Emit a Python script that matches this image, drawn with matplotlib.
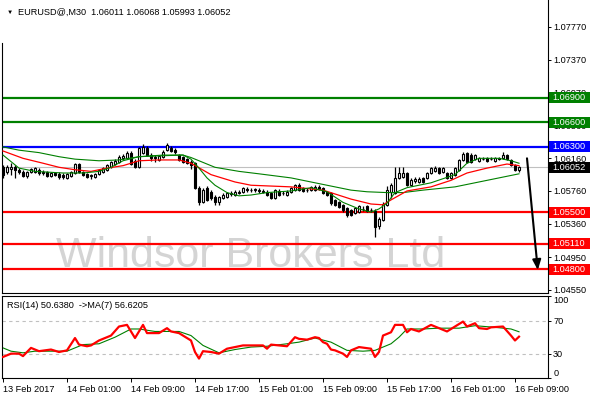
import matplotlib
matplotlib.use("Agg")
import matplotlib.pyplot as plt
import matplotlib.transforms as mtransforms
from matplotlib.patches import Rectangle
import numpy as np

plt.rcParams['font.family'] = ['Liberation Sans', 'DejaVu Sans']

# M30 candles, 13 Feb 17:00 .. 16 Feb 09:30
bar_open = [
    1.0605, 1.0599, 1.0603, 1.0605, 1.0602, 1.0599, 1.0594, 1.0599, 1.0599, 1.0602,
    1.0599, 1.0599, 1.0594, 1.0598, 1.0597, 1.0596, 1.0592, 1.0594, 1.0598, 1.0609,
    1.0599, 1.0597, 1.0594, 1.0593, 1.0597, 1.0599, 1.0602, 1.0605, 1.0609, 1.0612,
    1.0616, 1.0616, 1.0623, 1.0613, 1.0605, 1.0623, 1.0629, 1.0620, 1.0618, 1.0614,
    1.0618, 1.0626, 1.0629, 1.0626, 1.0620, 1.0618, 1.0615, 1.0612, 1.0610, 1.0580,
    1.0562, 1.0580, 1.0575, 1.0569, 1.0562, 1.0567, 1.0569, 1.0572, 1.0571, 1.0574,
    1.0575, 1.0578, 1.0577, 1.0577, 1.0577, 1.0576, 1.0575, 1.0574, 1.0567, 1.0576,
    1.0574, 1.0571, 1.0575, 1.0577, 1.0583, 1.0580, 1.0577, 1.0577, 1.0577, 1.0581,
    1.0580, 1.0575, 1.0574, 1.0565, 1.0562, 1.0559, 1.0555, 1.0553, 1.0549, 1.0550,
    1.0554, 1.0558, 1.0553, 1.0551, 1.0533, 1.0540, 1.0559, 1.0575, 1.0574, 1.0592,
    1.0593, 1.0598, 1.0583, 1.0588, 1.0587, 1.0592, 1.0592, 1.0598, 1.0600, 1.0604,
    1.0599, 1.0598, 1.0592, 1.0596, 1.0602, 1.0614, 1.0623, 1.0620, 1.0615, 1.0613,
    1.0615, 1.0616, 1.0615, 1.0613, 1.0615, 1.0616, 1.0620, 1.0614, 1.0608, 1.06011]
bar_high = [
    1.0608, 1.0608, 1.0610, 1.0608, 1.0604, 1.0602, 1.0600, 1.0604, 1.0605, 1.0604,
    1.0602, 1.0600, 1.0599, 1.0599, 1.0599, 1.0598, 1.0598, 1.0600, 1.0610, 1.0610,
    1.0600, 1.0598, 1.0597, 1.0598, 1.0603, 1.0605, 1.0609, 1.0613, 1.0615, 1.0620,
    1.0621, 1.0625, 1.0625, 1.0615, 1.0630, 1.0634, 1.0631, 1.0623, 1.0620, 1.0620,
    1.0626, 1.0635, 1.0631, 1.0629, 1.0621, 1.0619, 1.0616, 1.0614, 1.0612, 1.0582,
    1.0580, 1.0582, 1.0577, 1.0571, 1.0570, 1.0574, 1.0575, 1.0576, 1.0577, 1.0577,
    1.0581, 1.0581, 1.0580, 1.0580, 1.0580, 1.0578, 1.0577, 1.0575, 1.0578, 1.0578,
    1.0576, 1.0577, 1.0581, 1.0585, 1.0586, 1.0581, 1.0580, 1.0582, 1.0583, 1.0583,
    1.0581, 1.0576, 1.0575, 1.0566, 1.0564, 1.0560, 1.0556, 1.0554, 1.0556, 1.0559,
    1.0558, 1.0559, 1.0555, 1.0554, 1.0544, 1.0562, 1.0582, 1.0586, 1.0605, 1.0605,
    1.0605, 1.0599, 1.0592, 1.0593, 1.0593, 1.0593, 1.0599, 1.0605, 1.0607, 1.0605,
    1.0605, 1.0599, 1.0599, 1.0605, 1.0615, 1.0624, 1.0624, 1.0623, 1.0621, 1.0618,
    1.0618, 1.0618, 1.0618, 1.0618, 1.0618, 1.0624, 1.0621, 1.0615, 1.0609, 1.06068]
bar_low = [
    1.0592, 1.0597, 1.0596, 1.0592, 1.0597, 1.0593, 1.0592, 1.0598, 1.0598, 1.0596,
    1.0596, 1.0593, 1.0593, 1.0594, 1.0591, 1.0591, 1.0591, 1.0593, 1.0597, 1.0598,
    1.0594, 1.0592, 1.0591, 1.0592, 1.0596, 1.0598, 1.0600, 1.0604, 1.0608, 1.0610,
    1.0614, 1.0615, 1.0608, 1.0604, 1.0604, 1.0621, 1.0619, 1.0613, 1.0612, 1.0613,
    1.0616, 1.0625, 1.0624, 1.0621, 1.0613, 1.0610, 1.0609, 1.0603, 1.0578, 1.0559,
    1.0561, 1.0564, 1.0565, 1.0559, 1.0559, 1.0566, 1.0567, 1.0570, 1.0570, 1.0572,
    1.0574, 1.0575, 1.0575, 1.0575, 1.0574, 1.0574, 1.0570, 1.0566, 1.0566, 1.0570,
    1.0571, 1.0570, 1.0574, 1.0576, 1.0576, 1.0575, 1.0575, 1.0576, 1.0576, 1.0577,
    1.0572, 1.0570, 1.0559, 1.0558, 1.0555, 1.0550, 1.0544, 1.0545, 1.0548, 1.0549,
    1.0551, 1.0550, 1.0550, 1.0520, 1.0529, 1.0539, 1.0558, 1.0567, 1.0572, 1.0591,
    1.0592, 1.0582, 1.0582, 1.0586, 1.0586, 1.0586, 1.0591, 1.0597, 1.0599, 1.0597,
    1.0598, 1.0591, 1.0591, 1.0594, 1.0600, 1.0613, 1.0610, 1.0610, 1.0614, 1.0612,
    1.0614, 1.0612, 1.0614, 1.0612, 1.0614, 1.0615, 1.0614, 1.0607, 1.0600, 1.05993]
bar_close = [
    1.0596, 1.0605, 1.0605, 1.0602, 1.0599, 1.0594, 1.0599, 1.0603, 1.0604, 1.0598,
    1.0598, 1.0594, 1.0598, 1.0596, 1.0593, 1.0593, 1.0597, 1.0599, 1.0609, 1.0599,
    1.0596, 1.0593, 1.0595, 1.0597, 1.0602, 1.0604, 1.0608, 1.0612, 1.0613, 1.0618,
    1.0619, 1.0623, 1.0609, 1.0605, 1.0629, 1.0630, 1.0620, 1.0616, 1.0617, 1.0619,
    1.0624, 1.0632, 1.0625, 1.0624, 1.0614, 1.0612, 1.0610, 1.0608, 1.0580, 1.0562,
    1.0577, 1.0565, 1.0567, 1.0562, 1.0569, 1.0571, 1.0574, 1.0574, 1.0575, 1.0575,
    1.0580, 1.0577, 1.0577, 1.0578, 1.0576, 1.0575, 1.0571, 1.0567, 1.0577, 1.0571,
    1.0574, 1.0575, 1.0580, 1.0583, 1.0577, 1.0576, 1.0577, 1.0581, 1.0581, 1.0578,
    1.0574, 1.0571, 1.0561, 1.0559, 1.0556, 1.0553, 1.0547, 1.0547, 1.0555, 1.0558,
    1.0554, 1.0551, 1.0553, 1.0532, 1.0542, 1.0560, 1.0577, 1.0583, 1.0592, 1.0598,
    1.0598, 1.0583, 1.0589, 1.0591, 1.0591, 1.0587, 1.0598, 1.0604, 1.0604, 1.0598,
    1.0604, 1.0592, 1.0598, 1.0604, 1.0614, 1.0621, 1.0612, 1.0612, 1.0620, 1.0616,
    1.0615, 1.0613, 1.0615, 1.0616, 1.0616, 1.0620, 1.0615, 1.0608, 1.0602, 1.06052]

# moving averages (bar index, price)
slow_ma_idx = [0, 4, 9, 14, 18, 24, 29, 34, 39, 45, 47, 53, 59, 64, 72, 81, 87, 91, 96, 100, 105, 113, 120, 129]
slow_ma = [1.0630, 1.0626, 1.0623, 1.0618, 1.0615, 1.0613, 1.0614, 1.0618, 1.0619, 1.0620, 1.0617, 1.0605,
           1.0600, 1.0597, 1.0592, 1.0583, 1.0577, 1.0575, 1.0574, 1.0574, 1.0577, 1.0581, 1.0588, 1.0597]
red_ma_idx = [0, 5, 10, 14, 18, 22, 26, 30, 34, 39, 44, 47, 52, 58, 62, 72, 80, 87, 92, 95, 97, 101, 107,
              112, 116, 121, 126, 129]
red_ma = [1.0625, 1.0616, 1.0610, 1.0605, 1.0602, 1.0600, 1.0604, 1.0607, 1.0613, 1.0614, 1.0614, 1.0610,
          1.0596, 1.0587, 1.0583, 1.0581, 1.0577, 1.0566, 1.0560, 1.0559, 1.0565, 1.0576, 1.0581, 1.0589,
          1.0598, 1.0604, 1.0609, 1.0607]
fast_ma_idx = [0, 2, 4, 8, 15, 20, 24, 27, 30, 34, 40, 45, 47, 49, 51, 53, 56, 59, 62, 66, 72, 77, 81, 85,
               89, 92, 94, 96, 98, 101, 107, 113, 116, 119, 124, 127, 129]
fast_ma = [1.0620, 1.0612, 1.0604, 1.0600, 1.0598, 1.0598, 1.0600, 1.0605, 1.0613, 1.0618, 1.0620, 1.0620,
           1.0615, 1.0604, 1.0592, 1.0583, 1.0574, 1.0570, 1.0571, 1.0574, 1.0576, 1.0580, 1.0575, 1.0562,
           1.0554, 1.0550, 1.0554, 1.0561, 1.0574, 1.0580, 1.0586, 1.0596, 1.0610, 1.0616, 1.0616, 1.0613,
           1.0610]

# RSI(14) and its MA(7)
rsi_idx = [0, 2, 4, 5, 7, 9, 12, 14, 16, 18, 19, 21, 22, 24, 27, 29, 31, 33, 35, 36, 39, 41, 42, 44, 47,
           48, 49, 50, 52, 54, 56, 59, 60, 65, 66, 67, 71, 73, 74, 76, 78, 79, 80, 81, 82, 83, 85, 86, 87,
           89, 92, 93, 94, 95, 97, 98, 100, 101, 102, 104, 107, 109, 111, 113, 115, 116, 118, 119, 121,
           122, 125, 127, 128, 129]
rsi = [26, 30, 30, 27, 37, 33, 35, 32, 34, 49, 41, 39, 40, 46, 52, 63, 65, 49, 65, 55, 55, 61, 57, 55, 46,
       32, 24, 33, 32, 30, 36, 39, 40, 40, 36, 41, 39, 50, 48, 47, 50, 49, 44, 42, 35, 34, 30, 26, 34,
       38, 36, 26, 32, 52, 56, 65, 65, 56, 60, 57, 65, 61, 57, 63, 69, 63, 67, 61, 60,
       62, 63, 52, 46, 50.638]
rsi_ma_idx = [0, 2, 5, 8, 16, 20, 24, 28, 32, 34, 38, 44, 47, 50, 54, 58, 62, 66, 71, 74, 78, 82, 86, 90,
              93, 97, 99, 101, 105, 109, 114, 118, 123, 127, 129]
rsi_ma = [37, 33, 31, 33, 33, 41, 42, 50, 60, 60, 57, 57, 52, 40, 31, 35, 38, 39, 42, 44, 49, 44, 34, 33,
          34, 42, 50, 60, 60, 61, 61, 64, 62, 60, 56.6205]

green_levels = [1.0690, 1.0660]
blue_levels = [1.0630]
red_levels = [1.0550, 1.0511, 1.0480]
last_price = 1.06052

price_ticks = [1.0777, 1.0737, 1.0697, 1.0656, 1.0616, 1.0576, 1.0536, 1.0495, 1.0455]
time_idx = [0, 16, 32, 48, 64, 80, 96, 112, 128]
time_labels = ['13 Feb 2017', '14 Feb 01:00', '14 Feb 09:00', '14 Feb 17:00', '15 Feb 01:00',
               '15 Feb 09:00', '15 Feb 17:00', '16 Feb 01:00', '16 Feb 09:00']

# hand drawn arrow: (bar index, price)
arrow_from = (131.0, 1.0616)
arrow_to = (133.7, 1.0479)

FS = 6.6
W, H = 590.0, 400.0

fig = plt.figure(figsize=(5.9, 4.0), dpi=100)
ax = fig.add_axes([2 / W, 1 - 292.5 / H, 546 / W, 292.5 / H])
ax_rsi = fig.add_axes([2 / W, 1 - 378.3 / H, 546 / W, (378.3 - 295.7) / H])

# ---- main panel ----
idx = np.arange(len(bar_close))
o = np.array(bar_open)
c = np.array(bar_close)
up = c >= o

ax.text(251 / W, 1 - 267 / H, 'Windsor Brokers Ltd', transform=fig.transFigure, ha='center',
        va='baseline', fontsize=31, color='#d4d4d4', zorder=0.5)

for lvl in green_levels:
    ax.axhline(lvl, color='#008000', lw=1.6, zorder=2)
for lvl in blue_levels:
    ax.axhline(lvl, color='#0000ff', lw=1.6, zorder=2)
for lvl in red_levels:
    ax.axhline(lvl, color='#ff0000', lw=1.6, zorder=2)
ax.axhline(last_price, color='#c0c0c0', lw=0.8, zorder=1.5)

ax.vlines(idx, bar_low, bar_high, color='black', lw=0.9, zorder=3)
ax.bar(idx, np.abs(c - o), bottom=np.minimum(o, c), width=0.68,
       color=np.where(up, 'white', 'black'), edgecolor='black', linewidth=0.8, zorder=3.5)

ax.plot(slow_ma_idx, slow_ma, color='#008000', lw=0.8, zorder=4)
ax.plot(red_ma_idx, red_ma, color='#ff0000', lw=0.9, zorder=4)
ax.plot(fast_ma_idx, fast_ma, color='#008000', lw=0.8, zorder=4)

ax.annotate('', xy=arrow_to, xytext=arrow_from,
            arrowprops=dict(arrowstyle='-|>,head_length=0.6,head_width=0.25', color='black',
                            lw=1.5, shrinkA=0, shrinkB=0), zorder=6)

ax.set_xlim(-0.25, 136.25)
ax.set_ylim(1.04515, 1.08101)
ax.yaxis.tick_right()
ax.set_yticks(price_ticks)
ax.set_yticklabels(['%.5f' % p for p in price_ticks])
ax.tick_params(axis='y', length=2.5, width=0.7, pad=1.2, labelsize=FS)
ax.set_xticks([])
ax.spines['top'].set_visible(False)
ax.spines['left'].set_bounds(1.04515, 1.0757)
for s in ax.spines.values():
    s.set_linewidth(0.8)

# price tags on the right scale (they cover the scale labels behind them, as in the terminal)
blend = mtransforms.blended_transform_factory(ax.transAxes, ax.transData)
tag_text = mtransforms.offset_copy(blend, fig=fig, x=3.4, y=0, units='points')
tag_h = 0.00135
tags = [(l, '#008000') for l in green_levels] + [(l, '#0000ff') for l in blue_levels] + \
       [(l, '#ff0000') for l in red_levels] + [(last_price, '#000000')]
for lvl, col in tags:
    ax.add_patch(Rectangle((1.0015, lvl - tag_h / 2), 0.08, tag_h, transform=blend, fc=col,
                           ec='none', clip_on=False, zorder=20))
    ax.text(1.0, lvl, '%.5f' % lvl, transform=tag_text, ha='left', va='center', color='white',
            fontsize=FS, clip_on=False, zorder=21)

fig.text(7 / W, 1 - 12 / H, '\u25bc', fontsize=4.5, va='center', ha='left')
fig.text(18 / W, 1 - 12 / H, 'EURUSD@,M30  1.06011 1.06068 1.05993 1.06052', fontsize=FS,
         va='center', ha='left')

# ---- RSI panel ----
ax_rsi.axhline(70, color='#c0c0c0', lw=0.8, ls=(0, (3, 3)), zorder=1)
ax_rsi.axhline(30, color='#c0c0c0', lw=0.8, ls=(0, (3, 3)), zorder=1)
ax_rsi.plot(rsi_ma_idx, rsi_ma, color='#008000', lw=0.8, zorder=2)
ax_rsi.plot(rsi_idx, rsi, color='#ff0000', lw=1.6, zorder=3)

ax_rsi.set_xlim(-0.25, 136.25)
ax_rsi.set_ylim(0, 100.5)
ax_rsi.yaxis.tick_right()
ax_rsi.set_yticks([100, 70, 30, 0])
ax_rsi.set_yticklabels(['100', '70', '30', '0'])
ylabels = ax_rsi.get_yticklabels()
ylabels[0].set_va('top')
ylabels[3].set_va('bottom')
ax_rsi.tick_params(axis='y', length=2.5, width=0.7, pad=1.2, labelsize=FS)
ax_rsi.set_xticks(time_idx)
ax_rsi.set_xticklabels(time_labels, ha='left')
ax_rsi.tick_params(axis='x', length=3, width=0.7, pad=1.5, labelsize=FS)
for s in ax_rsi.spines.values():
    s.set_linewidth(0.8)

ax_rsi.text(7 / W, 1 - 305 / H, 'RSI(14) 50.6380  ->MA(7) 56.6205', transform=fig.transFigure,
            fontsize=FS, va='center', ha='left')

fig.savefig('out.png', dpi=100)
